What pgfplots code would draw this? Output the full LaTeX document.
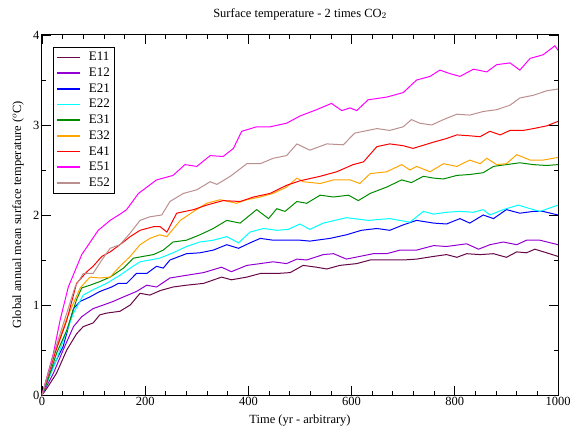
\documentclass[border=0pt]{standalone}
\usepackage{pgfplots}
\pgfplotsset{compat=1.18}
\usepackage{fontspec}
\setmainfont{Liberation Serif}
\definecolor{gmaroon}{RGB}{103,7,72}
\definecolor{gviolet}{RGB}{148,0,211}
\definecolor{gblue}{RGB}{0,0,255}
\definecolor{gcyan}{RGB}{0,255,255}
\definecolor{ggreen}{RGB}{0,139,0}
\definecolor{gorange}{RGB}{255,165,0}
\definecolor{gred}{RGB}{255,0,0}
\definecolor{gmagenta}{RGB}{255,0,255}
\definecolor{gbrown}{RGB}{188,143,143}
\begin{document}
\begin{tikzpicture}
\begin{axis}[
  scale only axis,
  width=516pt, height=360pt,
  xmin=0, xmax=1000, ymin=0, ymax=4,
  xtick={0,200,400,600,800,1000},
  ytick={0,1,2,3,4},
  minor x tick num=4,
  minor y tick num=1,
  major tick length=9pt,
  minor tick length=4.5pt,
  tick style={black, line width=0.8pt},
  axis line style={line width=1pt},
  tick label style={font=\fontsize{12.5}{14}\selectfont},
  yticklabel style={xshift=1pt},
  xticklabel style={yshift=1pt},
  /pgf/number format/assume math mode=true,
  /pgf/number format/1000 sep={},
  xlabel={Time (yr - arbitrary)},
  ylabel={Global annual mean surface temperature ($^{o}$C)},
  label style={font=\fontsize{12.5}{14}\selectfont},
  xlabel style={at={(axis description cs:0.5,-0.072)}, anchor=center},
  ylabel style={at={(axis description cs:-0.0465,0.5)}, anchor=center},
  every axis title shift=0pt,
  title={Surface temperature - 2 times CO$_2$},
  title style={font=\fontsize{12.5}{14}\selectfont, at={(axis description cs:0.5,1.058)}, anchor=center},
  legend style={at={(0.021,0.967)}, anchor=north west, draw=black, line width=0.8pt,
    font=\fontsize{13}{14}\selectfont, row sep=1.6pt, column sep=6pt, inner xsep=3pt, inner ysep=3pt},
  legend image code/.code={\draw[#1, line width=1.6pt] (0pt,0pt) -- (23pt,0pt);},
  legend cell align=left,
  every axis plot/.append style={line width=1pt, no markers},
]
\addplot[gmaroon] coordinates {(0,0) (9,0.07) (28,0.24) (48,0.50) (67,0.68) (80,0.76) (99,0.80) (112,0.89) (125,0.91) (151,0.93) (171,1.00) (190,1.13) (209,1.11) (229,1.16) (254,1.20) (280,1.22) (313,1.24) (348,1.31) (367,1.28) (397,1.31) (423,1.35) (455,1.35) (481,1.36) (506,1.44) (532,1.42) (552,1.40) (577,1.44) (610,1.46) (636,1.50) (668,1.50) (700,1.50) (726,1.51) (759,1.54) (784,1.56) (804,1.53) (823,1.57) (849,1.56) (875,1.57) (900,1.53) (920,1.59) (939,1.58) (955,1.62) (978,1.58) (1000,1.54)};
\addlegendentry{E11}
\addplot[gviolet] coordinates {(0,0) (22,0.24) (41,0.50) (61,0.76) (77,0.87) (99,0.96) (119,1.00) (138,1.04) (158,1.09) (183,1.15) (203,1.22) (222,1.20) (248,1.30) (280,1.33) (313,1.36) (348,1.42) (367,1.37) (397,1.44) (423,1.46) (448,1.48) (474,1.46) (494,1.51) (513,1.50) (545,1.56) (565,1.57) (590,1.51) (616,1.54) (642,1.57) (668,1.57) (694,1.61) (726,1.61) (759,1.66) (784,1.65) (823,1.68) (846,1.62) (868,1.67) (894,1.70) (920,1.67) (939,1.72) (965,1.72) (1000,1.67)};
\addlegendentry{E12}
\addplot[gblue] coordinates {(0,0) (22,0.32) (41,0.54) (61,0.96) (74,1.04) (93,1.09) (112,1.15) (135,1.20) (148,1.24) (164,1.24) (183,1.35) (203,1.35) (222,1.43) (235,1.41) (248,1.50) (280,1.57) (306,1.58) (332,1.61) (358,1.67) (381,1.63) (403,1.69) (423,1.74) (448,1.72) (474,1.72) (500,1.72) (519,1.71) (558,1.74) (590,1.78) (619,1.83) (649,1.85) (674,1.83) (700,1.89) (726,1.94) (759,1.91) (784,1.90) (810,1.96) (829,1.91) (855,2.00) (875,1.96) (900,2.06) (926,2.02) (952,2.04) (971,2.04) (1000,2.00)};
\addlegendentry{E21}
\addplot[gcyan] coordinates {(0,0) (28,0.39) (44,0.65) (61,0.91) (80,1.11) (99,1.17) (125,1.24) (151,1.33) (171,1.41) (190,1.48) (209,1.50) (228,1.52) (254,1.58) (280,1.65) (306,1.70) (332,1.72) (358,1.76) (381,1.69) (403,1.81) (429,1.85) (455,1.83) (477,1.84) (500,1.90) (519,1.84) (545,1.91) (590,1.97) (632,1.94) (674,1.96) (713,1.92) (739,2.04) (759,2.01) (784,2.03) (810,2.04) (836,2.03) (855,2.06) (868,2.00) (894,2.06) (923,2.11) (946,2.07) (965,2.04) (1000,2.11)};
\addlegendentry{E22}
\addplot[ggreen] coordinates {(0,0) (9,0.13) (28,0.46) (48,0.72) (67,1.06) (77,1.19) (93,1.22) (112,1.26) (132,1.31) (158,1.41) (177,1.52) (196,1.54) (216,1.56) (235,1.61) (254,1.70) (280,1.72) (306,1.78) (332,1.85) (358,1.94) (384,1.91) (416,2.06) (439,1.96) (455,2.07) (471,2.04) (494,2.15) (513,2.13) (539,2.22) (565,2.20) (594,2.22) (613,2.16) (636,2.24) (668,2.31) (697,2.39) (716,2.36) (739,2.43) (759,2.41) (778,2.40) (804,2.44) (829,2.45) (855,2.47) (875,2.54) (900,2.56) (926,2.58) (952,2.56) (978,2.55) (1000,2.56)};
\addlegendentry{E31}
\addplot[gorange] coordinates {(0,0) (20,0.40) (48,0.85) (74,1.19) (93,1.31) (112,1.30) (132,1.31) (151,1.43) (171,1.54) (190,1.67) (209,1.74) (228,1.78) (242,1.76) (268,1.94) (294,2.04) (319,2.13) (345,2.17) (377,2.13) (397,2.17) (423,2.20) (448,2.24) (474,2.31) (494,2.41) (506,2.37) (539,2.35) (565,2.39) (597,2.39) (616,2.35) (636,2.46) (668,2.48) (697,2.56) (713,2.50) (726,2.54) (752,2.48) (778,2.57) (804,2.54) (829,2.61) (849,2.57) (862,2.63) (881,2.56) (900,2.57) (920,2.67) (946,2.61) (971,2.61) (1000,2.64)};
\addlegendentry{E32}
\addplot[gred] coordinates {(0,0) (25,0.46) (48,0.83) (67,1.24) (87,1.37) (99,1.43) (116,1.54) (132,1.59) (151,1.67) (171,1.76) (190,1.83) (216,1.87) (229,1.87) (242,1.81) (261,2.02) (294,2.06) (319,2.11) (351,2.16) (384,2.15) (410,2.20) (442,2.24) (474,2.33) (500,2.38) (539,2.43) (571,2.48) (603,2.56) (623,2.59) (649,2.76) (674,2.79) (700,2.77) (719,2.74) (759,2.81) (784,2.85) (804,2.89) (829,2.88) (849,2.87) (868,2.93) (888,2.89) (907,2.94) (933,2.94) (952,2.96) (978,2.99) (1000,3.04)};
\addlegendentry{E41}
\addplot[gmagenta] coordinates {(0,0) (22,0.46) (35,0.83) (51,1.20) (77,1.56) (109,1.83) (132,1.94) (154,2.02) (164,2.06) (187,2.24) (222,2.39) (254,2.44) (277,2.56) (300,2.54) (326,2.66) (351,2.65) (371,2.74) (387,2.93) (416,2.98) (442,2.98) (474,3.02) (500,3.10) (532,3.17) (561,3.24) (581,3.16) (597,3.19) (610,3.16) (632,3.28) (668,3.31) (700,3.36) (726,3.50) (752,3.54) (771,3.61) (791,3.57) (810,3.54) (836,3.62) (862,3.59) (881,3.67) (907,3.69) (926,3.61) (946,3.74) (971,3.78) (994,3.88) (1000,3.83)};
\addlegendentry{E51}
\addplot[gbrown] coordinates {(0,0) (25,0.50) (48,0.91) (64,1.20) (80,1.35) (99,1.35) (116,1.50) (132,1.63) (151,1.67) (171,1.80) (190,1.94) (209,1.98) (232,2.00) (248,2.15) (274,2.24) (300,2.28) (326,2.37) (339,2.34) (365,2.43) (397,2.57) (423,2.57) (448,2.63) (474,2.66) (494,2.79) (519,2.72) (552,2.79) (584,2.78) (606,2.91) (649,2.96) (674,2.94) (700,2.98) (716,3.06) (732,3.02) (755,3.00) (778,3.06) (804,3.12) (829,3.11) (855,3.15) (881,3.17) (907,3.22) (926,3.30) (952,3.33) (978,3.38) (1000,3.40)};
\addlegendentry{E52}
\end{axis}
\pgfresetboundingbox
\path[use as bounding box] ([shift={(-42pt,-33pt)}]current axis.south west) rectangle ([shift={(14pt,35pt)}]current axis.north east);
\end{tikzpicture}
\end{document}
